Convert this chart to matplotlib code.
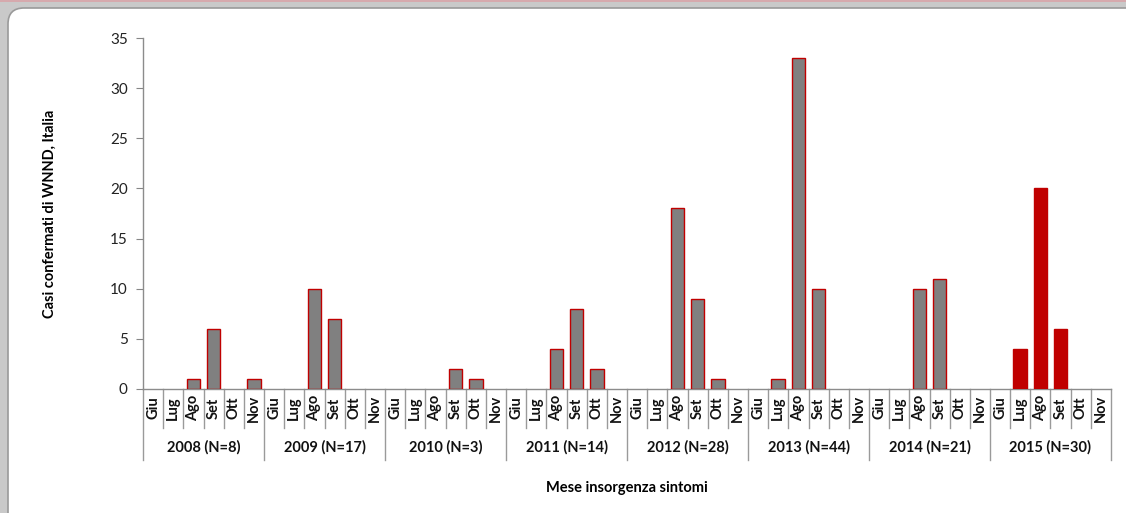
import matplotlib
matplotlib.use("Agg")
import matplotlib.pyplot as plt
from matplotlib.patches import FancyBboxPatch, Rectangle
from matplotlib.transforms import blended_transform_factory, IdentityTransform
import numpy as np

plt.rcParams['font.family'] = ['Lato', 'DejaVu Sans']

months = ["Giu", "Lug", "Ago", "Set", "Ott", "Nov"]
years = ["2008 (N=8)", "2009 (N=17)", "2010 (N=3)", "2011 (N=14)",
         "2012 (N=28)", "2013 (N=44)", "2014 (N=21)", "2015 (N=30)"]
cases = [
    [0, 0, 1, 6, 0, 1],
    [0, 0, 10, 7, 0, 0],
    [0, 0, 0, 2, 1, 0],
    [0, 0, 4, 8, 2, 0],
    [0, 0, 18, 9, 1, 0],
    [0, 1, 33, 10, 0, 0],
    [0, 0, 10, 11, 0, 0],
    [0, 4, 20, 6, 0, 0],
]

W, H = 1126, 513
fig = plt.figure(figsize=(W / 100, H / 100), dpi=100)
fig.patch.set_facecolor('#c9c9c9')

# white rounded panel (cropped chart frame), in pixel units
panel = FancyBboxPatch((8, -60), 1300, H - 8 + 60,
                       boxstyle="round,pad=0,rounding_size=16",
                       transform=IdentityTransform(), facecolor='white',
                       edgecolor='#9a9a9a', linewidth=1.2, zorder=-5)
fig.add_artist(panel)
fig.add_artist(Rectangle((0, H - 2), W, 2, transform=IdentityTransform(),
                         facecolor='#d6a9ad', edgecolor='none', zorder=-4))

ax = fig.add_axes([143 / W, 1 - 389 / H, 968 / W, 351 / H])
ax.set_facecolor('none')

n_m = len(months)
values = np.array(cases).ravel()
x = np.arange(len(values))
colors = []
for gi in range(len(years)):
    c = '#c00000' if gi == len(years) - 1 else '#808080'
    colors += [c] * n_m
lws = [1.0 if v > 0 else 0 for v in values]
ax.bar(x, values, width=0.68, color=colors, edgecolor='#c00000', linewidth=lws, zorder=3)

ax.set_xlim(-0.5, len(values) - 0.5)
ax.set_ylim(0, 35)
ax.set_yticks(range(0, 36, 5))
ax.tick_params(axis='y', direction='out', length=5, color='#868686', labelsize=11,
               labelcolor='#222222', pad=6)
ax.set_xticks([])
for s in ['top', 'right']:
    ax.spines[s].set_visible(False)
for s in ['left', 'bottom']:
    ax.spines[s].set_color('#8c8c8c')
    ax.spines[s].set_linewidth(1.0)

ax.set_ylabel("Casi confermati di WNND, Italia", fontsize=10.5, fontweight='bold',
              labelpad=38)

# grouped category axis
tr = blended_transform_factory(ax.transData, fig.transFigure)
y_top = 1 - 389 / H
y_mid = 1 - 428 / H
y_bot = 1 - 460 / H
for i in range(len(values) + 1):
    xb = i - 0.5
    yb = y_bot if i % n_m == 0 else y_mid
    ax.plot([xb, xb], [y_top, yb], transform=tr, color='#9a9a9a', lw=1.0,
            clip_on=False)
for i in range(len(values)):
    ax.text(i, 1 - 408 / H, months[i % n_m], transform=tr, rotation=90,
            ha='center', va='center', fontsize=10.5, fontweight='bold', color='#111111')
for gi, yl in enumerate(years):
    ax.text(gi * n_m + (n_m - 1) / 2, 1 - 447 / H, yl, transform=tr,
            ha='center', va='center', fontsize=10.5, fontweight='bold', color='#111111')

fig.text((143 + 1111) / 2 / W, 1 - 488 / H, "Mese insorgenza sintomi",
         ha='center', va='center', fontsize=10.5, fontweight='bold')

fig.savefig("out.png", dpi=100, facecolor=fig.get_facecolor())
